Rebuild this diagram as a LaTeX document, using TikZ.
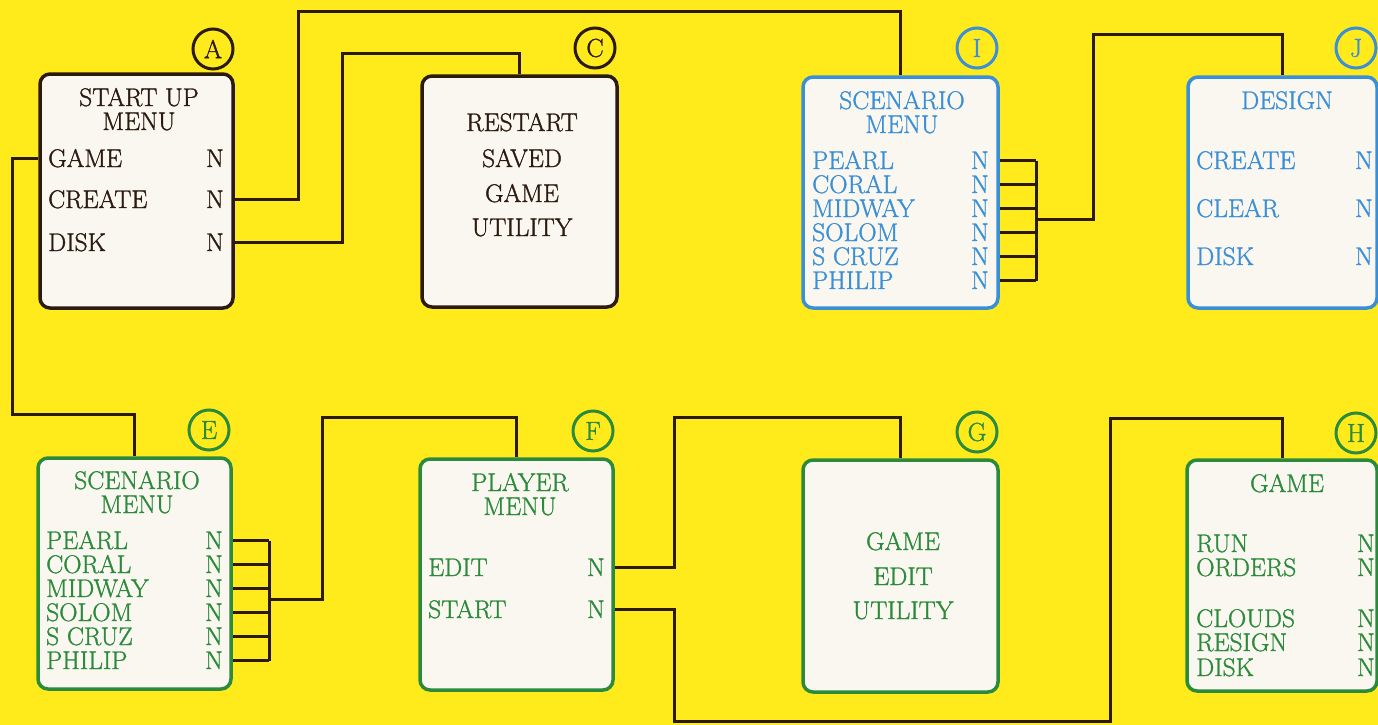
\documentclass[tikz,border=0pt]{standalone}
\usepackage{fontspec}
\setmainfont{Latin Modern Roman}[FakeBold=1.2]
\usetikzlibrary{backgrounds}
\definecolor{bgyellow}{HTML}{FFEB1C}
\definecolor{paper}{HTML}{FAF7F0}
\definecolor{tgreen}{HTML}{2B8A3B}
\definecolor{tblue}{HTML}{3A8FD6}
\definecolor{dark}{HTML}{2B1A10}
\begin{document}
\begin{tikzpicture}[x=1pt,y=-1pt,
  box/.style={draw, rounded corners=10pt, line width=3.5pt, fill=paper, inner sep=0pt},
  tag/.style={circle, draw, line width=3pt, minimum size=40pt, inner sep=0pt, font=\fontsize{26}{26}\selectfont},
  itm/.style={anchor=base west, inner sep=0pt, text height=17pt, text depth=0pt, font=\fontsize{25.5}{25.5}\selectfont},
  nn/.style={anchor=base east, inner sep=0pt, text height=17pt, text depth=0pt, font=\fontsize{25.5}{25.5}\selectfont},
  ttl/.style={anchor=base, inner sep=0pt, text height=17pt, text depth=0pt, font=\fontsize{25.5}{25.5}\selectfont},
  wire/.style={draw=dark, line width=3pt}]
\useasboundingbox (0,0) rectangle (1378,725);
\clip (0,0) rectangle (1378,725);
\begin{pgfonlayer}{background}
\fill[bgyellow] (0,0) rectangle (1378,725);
\end{pgfonlayer}

% ---------- A ----------
\begin{scope}[every node/.append style={text=dark}]
\node[box, draw=dark, minimum width=193pt, minimum height=234pt] (A) at (136.5,191) {};
\node[tag, draw=dark] (tA) at (213,49) {A};
\node[ttl] (aT1) at (139,106) {START UP};
\node[ttl] (aT2) at (139,130) {MENU};
\node[itm] (aG) at (48,167) {GAME};    \node[nn] (aGN) at (224,167) {N};
\node[itm] (aC) at (48,208) {CREATE};  \node[nn] (aCN) at (224,208) {N};
\node[itm] (aD) at (48,251) {DISK};    \node[nn] (aDN) at (224,251) {N};
% ---------- C ----------
\node[box, draw=dark, minimum width=195pt, minimum height=231pt] (C) at (519.5,191.5) {};
\node[tag, draw=dark] (tC) at (595,48) {C};
\node[ttl] (c1) at (522,131) {RESTART};
\node[ttl] (c2) at (522,167) {SAVED};
\node[ttl] (c3) at (522,202) {GAME};
\node[ttl] (c4) at (522,236) {UTILITY};
\end{scope}

% ---------- I ----------
\begin{scope}[every node/.append style={text=tblue}]
\node[box, draw=tblue, minimum width=195pt, minimum height=231pt] (I) at (900.5,192.5) {};
\node[tag, draw=tblue] (tI) at (977,48) {I};
\node[ttl] (iT1) at (902,109) {SCENARIO};
\node[ttl] (iT2) at (902,133) {MENU};
\node[itm] (i1) at (812,169) {PEARL};  \node[nn] (iN1) at (989,169) {N};
\node[itm] (i2) at (812,193) {CORAL};  \node[nn] (iN2) at (989,193) {N};
\node[itm] (i3) at (812,217) {MIDWAY}; \node[nn] (iN3) at (989,217) {N};
\node[itm] (i4) at (812,241) {SOLOM};  \node[nn] (iN4) at (989,241) {N};
\node[itm] (i5) at (812,265) {S CRUZ}; \node[nn] (iN5) at (989,265) {N};
\node[itm] (i6) at (812,289) {PHILIP}; \node[nn] (iN6) at (989,289) {N};
% ---------- J ----------
\node[box, draw=tblue, minimum width=189pt, minimum height=231pt] (J) at (1282.5,192.5) {};
\node[tag, draw=tblue] (tJ) at (1356,48) {J};
\node[ttl] (jT) at (1287,109) {DESIGN};
\node[itm] (j1) at (1196,169) {CREATE}; \node[nn] (jN1) at (1373,169) {N};
\node[itm] (j2) at (1196,217) {CLEAR};  \node[nn] (jN2) at (1373,217) {N};
\node[itm] (j3) at (1196,265) {DISK};   \node[nn] (jN3) at (1373,265) {N};
\end{scope}

\begin{scope}[every node/.append style={text=tgreen}]
% ---------- E ----------
\node[box, draw=tgreen, minimum width=193pt, minimum height=231pt] (E) at (134.5,573.5) {};
\node[tag, draw=tgreen] (tE) at (209,430) {E};
\node[ttl] (eT1) at (137,489) {SCENARIO};
\node[ttl] (eT2) at (137,513) {MENU};
\node[itm] (e1) at (46,549) {PEARL};  \node[nn] (eN1) at (223,549) {N};
\node[itm] (e2) at (46,573) {CORAL};  \node[nn] (eN2) at (223,573) {N};
\node[itm] (e3) at (46,597) {MIDWAY}; \node[nn] (eN3) at (223,597) {N};
\node[itm] (e4) at (46,621) {SOLOM};  \node[nn] (eN4) at (223,621) {N};
\node[itm] (e5) at (46,645) {S CRUZ}; \node[nn] (eN5) at (223,645) {N};
\node[itm] (e6) at (46,669) {PHILIP}; \node[nn] (eN6) at (223,669) {N};
% ---------- F ----------
\node[box, draw=tgreen, minimum width=193pt, minimum height=231pt] (F) at (516.5,574.5) {};
\node[tag, draw=tgreen] (tF) at (593,431) {F};
\node[ttl] (fT1) at (520,491) {PLAYER};
\node[ttl] (fT2) at (520,515) {MENU};
\node[itm] (f1) at (428,576) {EDIT};  \node[nn] (fN1) at (605,576) {N};
\node[itm] (f2) at (428,618) {START}; \node[nn] (fN2) at (605,618) {N};
% ---------- G ----------
\node[box, draw=tgreen, minimum width=195pt, minimum height=232pt] (G) at (900.5,576) {};
\node[tag, draw=tgreen] (tG) at (977,432) {G};
\node[ttl] (g1) at (903,550) {GAME};
\node[ttl] (g2) at (903,585) {EDIT};
\node[ttl] (g3) at (903,619) {UTILITY};
% ---------- H ----------
\node[box, draw=tgreen, minimum width=190pt, minimum height=231pt] (H) at (1282,575.5) {};
\node[tag, draw=tgreen] (tH) at (1356,433) {H};
\node[ttl] (hT) at (1287,492) {GAME};
\node[itm] (h1) at (1196,552) {RUN};    \node[nn] (hN1) at (1375,552) {N};
\node[itm] (h2) at (1196,576) {ORDERS}; \node[nn] (hN2) at (1375,576) {N};
\node[itm] (h3) at (1196,627) {CLOUDS}; \node[nn] (hN3) at (1375,627) {N};
\node[itm] (h4) at (1196,651) {RESIGN}; \node[nn] (hN4) at (1375,651) {N};
\node[itm] (h5) at (1196,676) {DISK};   \node[nn] (hN5) at (1375,676) {N};
\end{scope}

\coordinate (ibus) at (1036,219);
\coordinate (ebus) at (269,599);

% ---------- connectors ----------
\begin{pgfonlayer}{background}
\draw[wire] (A.west |- aGN) -| (12,414) -| (E.north);
\draw[wire] (A.east |- aCN) -| (298,12) -| (I.north);
\draw[wire] (A.east |- aDN) -| (342,54) -| (C.north);
\foreach \k in {1,...,6}{
  \draw[wire] (I.east |- iN\k) -- (ibus |- iN\k);
  \draw[wire] (E.east |- eN\k) -- (ebus |- eN\k);
}
\draw[wire] (ibus |- iN1) -- (ibus |- iN6);
\draw[wire] (ebus |- eN1) -- (ebus |- eN6);
\draw[wire] (ibus) -| (1093,35) -| (J.north);
\draw[wire] (ebus) -| (322,417) -| (F.north);
\draw[wire] (F.east |- fN1) -| (674,417) -| (G.north);
\draw[wire] (F.east |- fN2) -| (674,721) -| (1110,418) -| (H.north);
\end{pgfonlayer}
\end{tikzpicture}
\end{document}
